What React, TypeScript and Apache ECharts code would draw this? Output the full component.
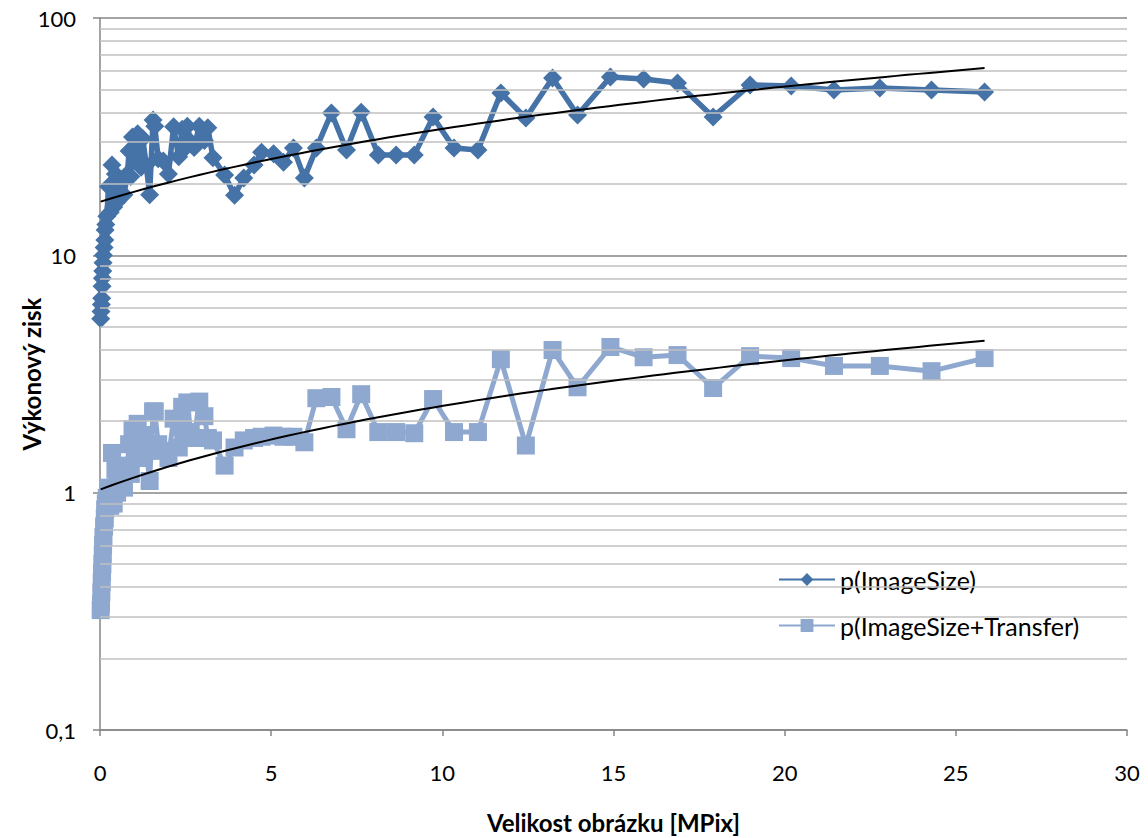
import React, { useEffect, useRef } from "react";
import * as echarts from "echarts";

// Image size [MPix]
const imageSizes = [
  0.02, 0.03, 0.04, 0.05, 0.06, 0.07, 0.08, 0.09, 0.1, 0.12,
  0.14, 0.15, 0.17, 0.2, 0.25, 0.3, 0.35, 0.4, 0.45, 0.5,
  0.6, 0.7, 0.8, 0.85, 0.9, 0.95, 1.05, 1.1, 1.2, 1.25,
  1.35, 1.45, 1.55, 1.6, 1.7, 1.85, 2.0, 2.15, 2.3, 2.4,
  2.45, 2.55, 2.65, 2.75, 2.9, 3.05, 3.15, 3.3,
  3.64, 3.93, 4.2, 4.5, 4.72, 5.07, 5.36, 5.65, 5.97, 6.32,
  6.76, 7.2, 7.63, 8.13, 8.65, 9.18, 9.73, 10.34, 11.04, 11.71,
  12.44, 13.22, 13.95, 14.91, 15.88, 16.87, 17.91, 18.99, 20.19, 21.44,
  22.78, 24.29, 25.84,
];

// p(ImageSize)
const gainImageSize = [
  5.4, 5.8, 6.2, 6.6, 7.4, 8.0, 8.6, 9.3, 10.0, 10.8,
  11.6, 12.8, 13.5, 14.6, 19.5, 15.2, 24.0, 16.0, 22.0, 16.8,
  20.5, 18.0, 22.0, 27.5, 21.5, 31.5, 25.0, 32.5, 23.5, 31.0,
  24.0, 18.0, 37.2, 35.0, 25.5, 25.0, 22.0, 34.8, 26.0, 34.0,
  28.0, 35.0, 30.0, 28.5, 35.0, 30.5, 34.5, 25.8,
  21.8, 17.9, 21.2, 24.0, 27.2, 26.8, 24.7, 28.3, 21.2, 28.3,
  39.8, 27.8, 40.1, 26.5, 26.5, 26.5, 38.3, 28.3, 27.8, 48.3,
  37.9, 55.9, 39.0, 56.4, 55.3, 53.2, 38.3, 52.2, 51.7, 49.7,
  50.7, 49.7, 48.8,
];

// p(ImageSize+Transfer)
const gainWithTransfer = [
  0.32, 0.34, 0.38, 0.42, 0.46, 0.5, 0.55, 0.6, 0.65, 0.72,
  0.78, 0.85, 0.9, 0.95, 1.05, 0.88, 1.47, 0.9, 1.25, 1.0,
  1.1, 1.05, 1.3, 1.6, 1.2, 1.85, 1.5, 1.95, 1.4, 1.75,
  1.5, 1.12, 2.2, 2.2, 1.6, 1.5, 1.4, 2.05, 1.55, 2.3,
  1.7, 2.4, 1.8, 1.7, 2.42, 2.1, 1.7, 1.66,
  1.30, 1.55, 1.66, 1.70, 1.72, 1.74, 1.72, 1.72, 1.63, 2.50,
  2.53, 1.85, 2.60, 1.80, 1.80, 1.78, 2.48, 1.80, 1.80, 3.65,
  1.58, 3.99, 2.78, 4.11, 3.72, 3.80, 2.76, 3.76, 3.69, 3.42,
  3.42, 3.25, 3.69,
];

// Linear trend lines: y = intercept + slope * x
const trendImageSize = { intercept: 16.8, slope: 1.73 };
const trendWithTransfer = { intercept: 1.03, slope: 0.129 };

const seriesNames = ["p(ImageSize)", "p(ImageSize+Transfer)"];
const minorGridValues = [0.2, 0.3, 0.4, 0.5, 0.6, 0.7, 0.8, 0.9, 2, 3, 4, 5, 6, 7, 8, 9, 20, 30, 40, 50, 60, 70, 80, 90];

const FONT = "Lato, 'Liberation Sans', sans-serif";

function trendPoints(t: { intercept: number; slope: number }) {
  const x0 = Math.min(...imageSizes);
  const x1 = Math.max(...imageSizes);
  const pts: number[][] = [];
  const n = 80;
  for (let i = 0; i <= n; i++) {
    const x = x0 + ((x1 - x0) * i) / n;
    pts.push([x, t.intercept + t.slope * x]);
  }
  return pts;
}

export default function App() {
  const ref = useRef<HTMLDivElement>(null);
  useEffect(() => {
    if (!ref.current) return;
    const chart = echarts.init(ref.current, null, { renderer: "svg" });
    const s1 = imageSizes.map((x, i) => [x, gainImageSize[i]]);
    const s2 = imageSizes.map((x, i) => [x, gainWithTransfer[i]]);
    chart.setOption({
      animation: false,
      backgroundColor: "#ffffff",
      grid: {
        left: 100,
        top: 18,
        width: 1027,
        height: 712,
        containLabel: false,
        outerBoundsMode: "none",
      },
      legend: {
        data: seriesNames,
        orient: "vertical",
        left: 773,
        top: 562,
        itemWidth: 56,
        itemHeight: 16,
        itemGap: 21,
        textStyle: { fontFamily: FONT, fontSize: 25, color: "#000" },
      },
      xAxis: {
        type: "value",
        min: 0,
        max: 30,
        interval: 5,
        name: "Velikost obrázku [MPix]",
        nameLocation: "middle",
        nameGap: 80,
        nameMoveOverlap: false,
        nameTextStyle: { fontFamily: FONT, fontSize: 24, fontWeight: "bold", color: "#000" },
        axisLine: { show: true, lineStyle: { color: "#868686", width: 1.5 } },
        axisTick: { show: true, length: 6, lineStyle: { color: "#868686", width: 1.5 } },
        axisLabel: { fontFamily: FONT, fontSize: 22, color: "#000", margin: 31 },
        splitLine: { show: false },
      },
      yAxis: {
        type: "log",
        logBase: 10,
        min: 0.1,
        max: 100,
        name: "Výkonový zisk",
        nameLocation: "middle",
        nameGap: 57,
        nameMoveOverlap: false,
        nameTextStyle: { fontFamily: FONT, fontSize: 24, fontWeight: "bold", color: "#000" },
        axisLine: { show: true, onZero: false, lineStyle: { color: "#868686", width: 1.5 } },
        axisTick: { show: true, length: 7, lineStyle: { color: "#868686", width: 1.5 } },
        axisLabel: {
          fontFamily: FONT,
          fontSize: 22,
          color: "#000",
          margin: 24,
          formatter: (v: number) => String(v).replace(".", ","),
        },
        splitLine: { show: true, lineStyle: { color: "#868686", width: 1.5 } },
      },
      series: [
        {
          name: "minor-grid",
          type: "line",
          data: [],
          silent: true,
          z: 0,
          markLine: {
            silent: true,
            symbol: ["none", "none"],
            label: { show: false },
            lineStyle: { color: "#c0c0c0", width: 1.5, type: "solid" },
            data: minorGridValues.map((v) => ({ yAxis: v })),
          },
        },
        {
          name: seriesNames[0],
          type: "line",
          data: s1,
          clip: false,
          z: 3,
          symbol: "diamond",
          symbolSize: 19,
          color: "#4572A7",
          lineStyle: { color: "#4572A7", width: 5.5 },
          itemStyle: { color: "#4572A7" },
        },
        {
          name: seriesNames[1],
          type: "line",
          data: s2,
          clip: false,
          z: 3,
          symbol: "rect",
          symbolSize: 18,
          color: "#8FA8D0",
          lineStyle: { color: "#8FA8D0", width: 5 },
          itemStyle: { color: "#8FA8D0" },
        },
        {
          name: "trend1",
          type: "line",
          data: trendPoints(trendImageSize),
          showSymbol: false,
          symbol: "none",
          z: 5,
          lineStyle: { color: "#000", width: 2 },
          silent: true,
        },
        {
          name: "trend2",
          type: "line",
          data: trendPoints(trendWithTransfer),
          showSymbol: false,
          symbol: "none",
          z: 5,
          lineStyle: { color: "#000", width: 2 },
          silent: true,
        },
      ],
    });
    return () => chart.dispose();
  }, []);
  return (
    <div
      ref={ref}
      style={{ position: "fixed", left: 0, top: 0, width: 1148, height: 838, background: "#fff" }}
    />
  );
}
